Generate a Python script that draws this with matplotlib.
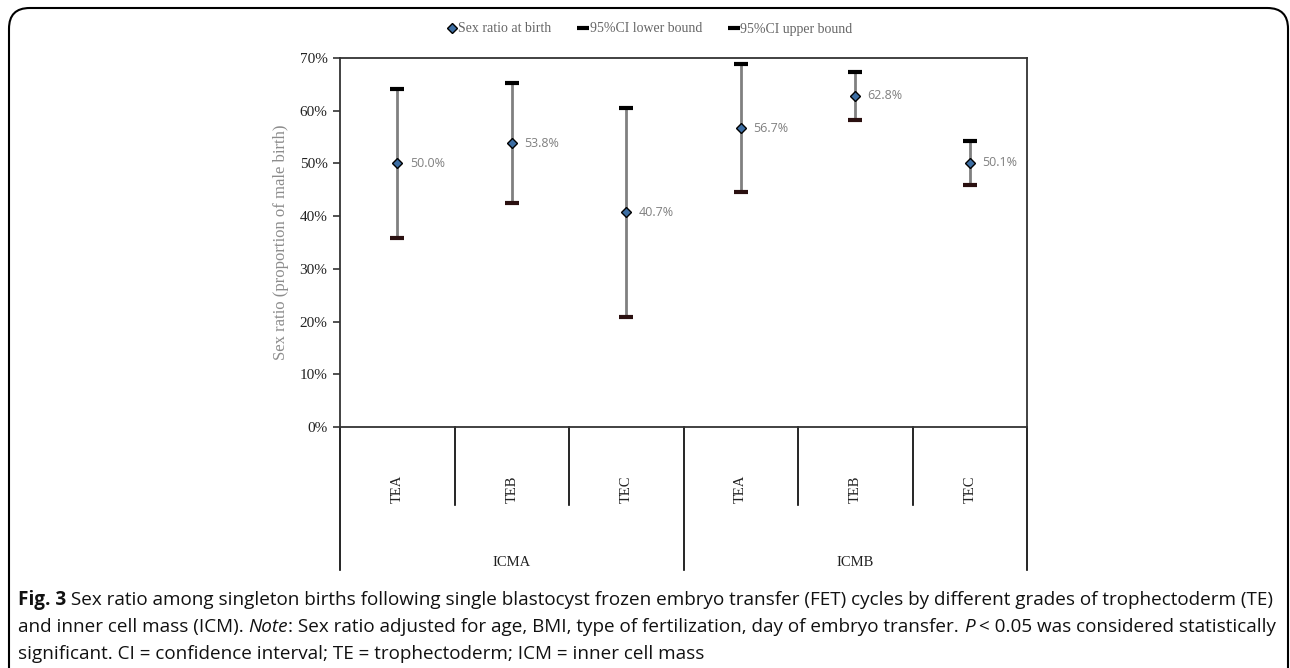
import matplotlib.pyplot as plt
import numpy as np
from matplotlib.lines import Line2D
from matplotlib.patches import FancyBboxPatch
import matplotlib.transforms as mtransforms

# data (proportion of male births, %)
te_grades = ["TEA", "TEB", "TEC", "TEA", "TEB", "TEC"]
icm_groups = ["ICMA", "ICMB"]
sex_ratio = [50.0, 53.8, 40.7, 56.7, 62.8, 50.1]
ci_lower = [35.9, 42.5, 20.9, 44.5, 58.3, 45.9]
ci_upper = [64.1, 65.2, 60.5, 68.9, 67.3, 54.3]

serif = "Liberation Serif"
x = np.arange(len(te_grades))
y = np.array(sex_ratio)
lo = np.array(ci_lower)
hi = np.array(ci_upper)

fig = plt.figure(figsize=(12.9, 6.68), dpi=100)
ax = fig.add_axes([340 / 1290, 1 - 427 / 668, 687 / 1290, 369 / 668])

# CI whiskers
ax.vlines(x, lo, hi, color="#808080", lw=2, zorder=2)
ax.plot(x, lo, ls="none", marker="_", ms=10, mew=3, color="#2a1010", zorder=3)
ax.plot(x, hi, ls="none", marker="_", ms=10, mew=3, color="black", zorder=3)
ax.plot(x, y, ls="none", marker="D", ms=5.5, mfc="#3d6ea3", mec="black", mew=1.0, zorder=4)
for xi, yi in zip(x, y):
    ax.annotate(f"{yi:.1f}%", (xi, yi), xytext=(9, 0), textcoords="offset points",
                va="center", ha="left", fontsize=9, color="#808080", family="Open Sans")

ax.set_xlim(-0.5, len(te_grades) - 0.5)
ax.set_ylim(0, 70)
ax.set_yticks(np.arange(0, 71, 10))
ax.set_yticklabels([f"{v}%" for v in range(0, 71, 10)], family=serif, fontsize=11, color="#222222")
ax.tick_params(axis="y", direction="out", length=5, width=1.2, color="#333333", pad=4)
ax.set_xticks([])
for s in ax.spines.values():
    s.set_linewidth(1.3)
    s.set_color("#333333")
ax.set_ylabel("Sex ratio (proportion of male birth)", family=serif, fontsize=12,
              color="#8c8c8c", labelpad=8)

# hierarchical category axis below the plot
trans = mtransforms.blended_transform_factory(ax.transData, ax.transAxes)
short_y = -(505 - 427) / 369
long_y = -(570 - 427) / 369
for b in np.arange(0.5, len(te_grades) - 1, 1):
    if b == 2.5:
        continue
    ax.plot([b, b], [0, short_y], transform=trans, color="black", lw=1.2, clip_on=False)
for b in [-0.5, 2.5, len(te_grades) - 0.5]:
    ax.plot([b, b], [0, long_y], transform=trans, color="black", lw=1.2, clip_on=False)
for xi, lab in zip(x, te_grades):
    ax.text(xi, -(503 - 427) / 369, lab, transform=trans, rotation=90, ha="center", va="bottom",
            family=serif, fontsize=10.5, color="#222222")
for gi, lab in enumerate(icm_groups):
    ax.text(gi * 3 + 1, -(563 - 427) / 369, lab, transform=trans, ha="center", va="center",
            family=serif, fontsize=10.5, color="#222222")

# legend
handles = [
    Line2D([], [], ls="none", marker="D", ms=5.5, mfc="#3d6ea3", mec="black"),
    Line2D([], [], ls="none", marker="_", ms=9, mew=3, color="black"),
    Line2D([], [], ls="none", marker="_", ms=9, mew=3, color="black"),
]
fig.legend(handles, ["Sex ratio at birth", "95%CI lower bound", "95%CI upper bound"],
           loc="center", bbox_to_anchor=(650 / 1290, 1 - 29 / 668), ncol=3, frameon=False,
           prop={"family": serif, "size": 10}, labelcolor="#666666", handlelength=0.6,
           handletextpad=0.15, columnspacing=2.0)

# rounded frame around the figure
frame = FancyBboxPatch((9 / 1290, -0.05), 1279 / 1290, 1 - 8 / 668 + 0.05,
                       boxstyle="round,pad=0,rounding_size=0.016", transform=fig.transFigure,
                       fill=False, ec="black", lw=1.5, mutation_aspect=1290 / 668)
fig.patches.append(frame)

# caption, built piece by piece to mix bold and italic
cap_font = ["Open Sans", "DejaVu Sans"]
lines = [
    [("Fig. 3", "bold", "normal"),
     (" Sex ratio among singleton births following single blastocyst frozen embryo transfer (FET) cycles by different grades of trophectoderm (TE)", "normal", "normal")],
    [("and inner cell mass (ICM). ", "normal", "normal"), ("Note", "normal", "italic"),
     (": Sex ratio adjusted for age, BMI, type of fertilization, day of embryo transfer. ", "normal", "normal"),
     ("P", "normal", "italic"), (" < 0.05 was considered statistically", "normal", "normal")],
    [("significant. CI = confidence interval; TE = trophectoderm; ICM = inner cell mass", "normal", "normal")],
]
line_y = [600, 627, 654]
renderer = fig.canvas.get_renderer()
for parts, ly in zip(lines, line_y):
    xpos = 18 / 1290
    for txt, wt, st in parts:
        t = fig.text(xpos, 1 - ly / 668, txt, ha="left", va="center", fontsize=13.6,
                     family=cap_font, weight=wt, style=st, color="#111111")
        bb = t.get_window_extent(renderer)
        xpos += bb.width / fig.bbox.width

fig.savefig("out.png", dpi=100)
